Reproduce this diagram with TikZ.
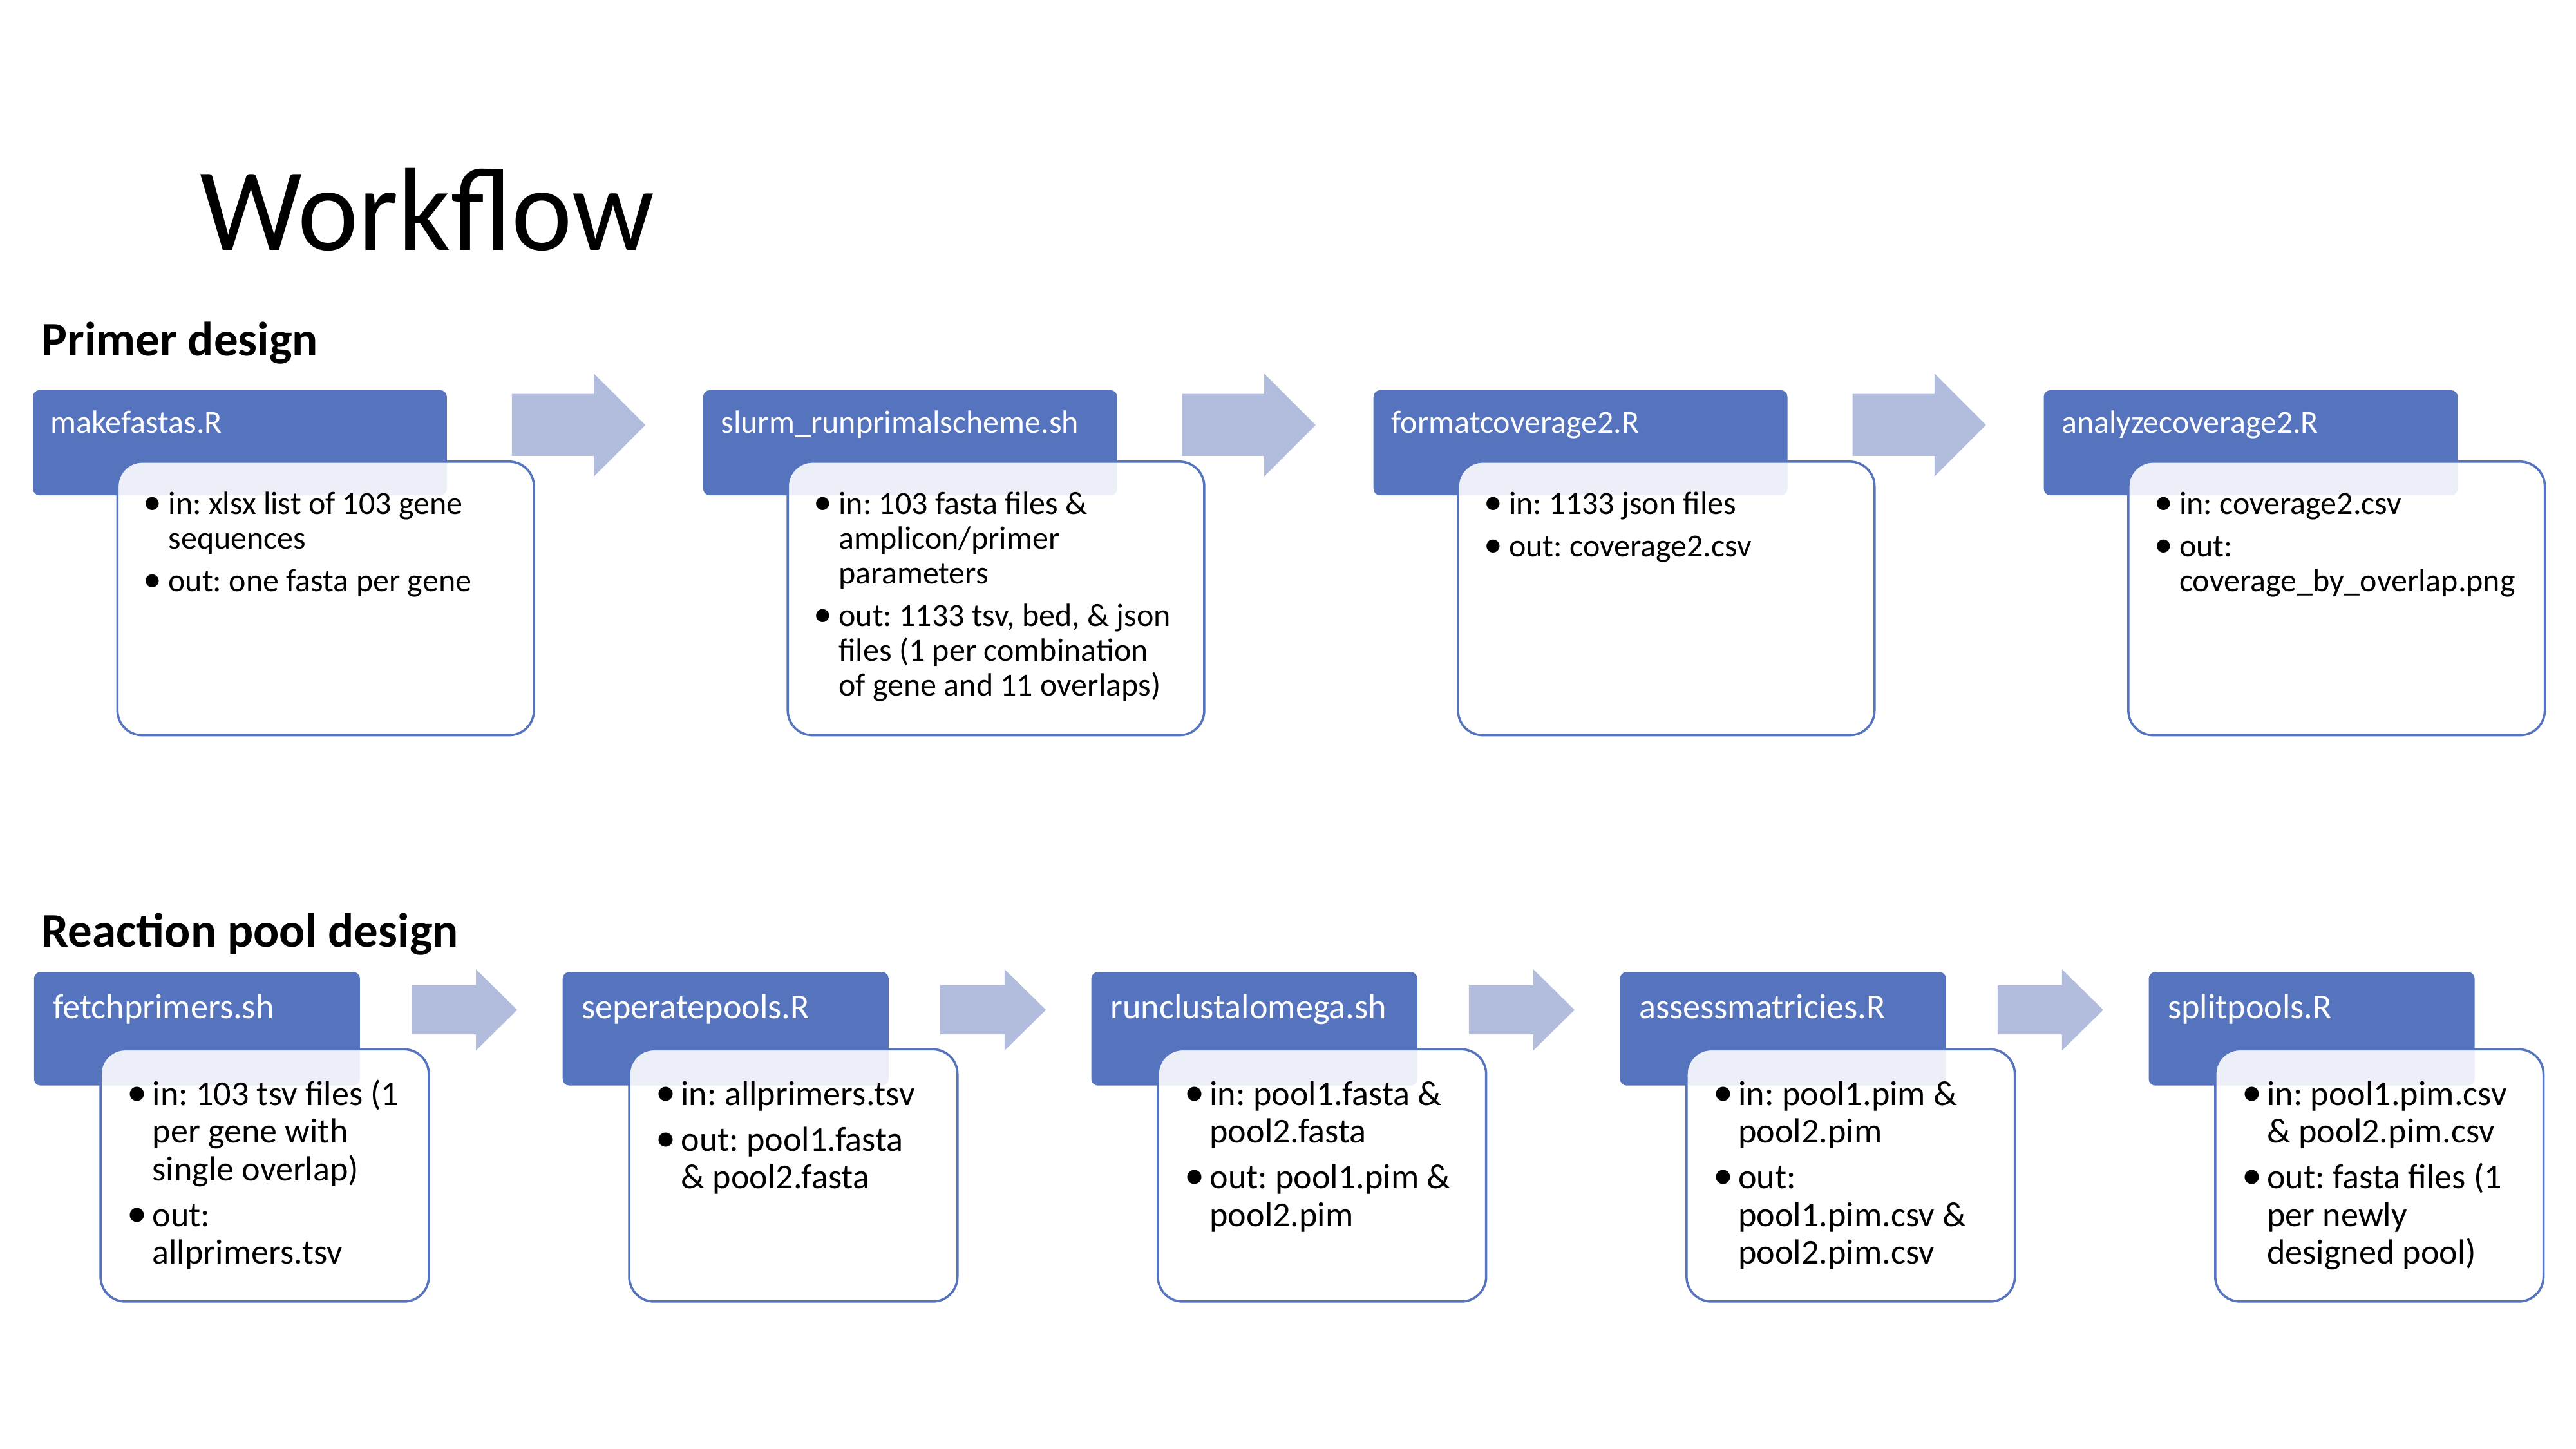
\documentclass[tikz,border=0pt]{standalone}
\usepackage{fontspec}
\setmainfont{Carlito}
\newfontfamily\titlefont[FakeStretch=0.975]{Carlito}
\frenchspacing

\definecolor{hdrblue}{HTML}{5673BE}
\definecolor{arrowblue}{HTML}{B2BCDD}

% hanging indent used by the bullet lists
\newlength\bind
\setlength\bind{8.1pt}
% one bullet paragraph
\newcommand\bpar{\par\noindent\hangindent=\bind\hangafter=1\makebox[\bind][l]{\kern-1.2pt\scalebox{1.15}{\textbullet}}}
% bullet list block: #1 font size, #2 line spacing, #3 items
\newcommand\steptext[3]{\parbox[t]{260pt}{\fontsize{#1}{#2}\selectfont\frenchspacing\setlength\parskip{3pt}#3}}

\begin{document}
\begin{tikzpicture}[x=0.612245pt, y=-0.612245pt,
  hdr/.style={fill=hdrblue, rounded corners=2.5pt},
  bodybox/.style={draw=hdrblue, line width=0.85pt, fill=white, fill opacity=0.89, rounded corners=9.2pt},
  hdrtext/.style={anchor=base west, inner sep=0pt, text=white},
  bodytext/.style={anchor=base west, inner sep=0pt, text=black},
  flowarrow/.style={fill=arrowblue},
  titletext/.style={anchor=base west, inner sep=0pt, font=\titlefont\fontsize{44}{50}\selectfont},
  sectext/.style={anchor=base west, inner sep=0pt, font=\bfseries\fontsize{18}{21}\selectfont}]

\fill[white] (0,0) rectangle (1568,882);
\useasboundingbox (0,0) rectangle (1568,882);

% ---- titles ----
\node[titletext] (title) at (121.5,152.2) {Workflow};
\node[sectext] (secprimer) at (25,216.5) {Primer design};
\node[sectext] (secpool) at (25,576.5) {Reaction pool design};

% ---- primer design row (step 408) ----
\newcommand\topstep[4]{%
  \fill[hdr] (20+#2,237.5) rectangle ++(252,64);
  \filldraw[bodybox] (71.5+#2,281) rectangle ++(253.5,166.5);
  \node[hdrtext, font=\fontsize{12}{14}\selectfont] (tt#1) at (30.6+#2,263.8) {#3};
  \node[bodytext] (tb#1) at (89+#2,313) {\steptext{12}{12.96}{#4}};
}
\newcommand\toparrow[2]{%
  \fill[flowarrow] (#2,239.8) -- (#2+49.9,239.8) -- (#2+49.9,227.4) -- (#2+81.2,258.7)
     -- (#2+49.9,290) -- (#2+49.9,277.5) -- (#2,277.5) -- cycle;
}

\topstep{1}{0}{makefastas.R}{\bpar in: xlsx list of 103 gene\\sequences\bpar out: one fasta per gene}
\topstep{2}{408}{slurm\_runprimalscheme.sh}{\bpar in: 103 fasta files \&\\amplicon/primer\\parameters\bpar out: 1133 tsv, bed, \& json\\files (1 per combination\\of gene and 11 overlaps)}
\topstep{3}{816}{formatcoverage2.R}{\bpar in: 1133 json files\bpar out: coverage2.csv}
\topstep{4}{1224}{analyzecoverage2.R}{\bpar in: coverage2.csv\bpar out:\\coverage\_by\_overlap.png}

\toparrow{1}{311.6}
\toparrow{2}{719.6}
\toparrow{3}{1127.6}

% ---- reaction pool design row (step 321.8) ----
\newcommand\botstep[4]{%
  \fill[hdr] (20.7+#2,591.6) rectangle ++(198.4,69.2);
  \filldraw[bodybox] (61.2+#2,638.7) rectangle ++(199.8,153.5);
  \node[hdrtext, font=\fontsize{13}{15}\selectfont] (bt#1) at (32+#2,620) {#3};
  \node[bodytext] (bb#1) at (79.2+#2,672.7) {\steptext{13}{14.04}{#4}};
}
\newcommand\botarrow[2]{%
  \fill[flowarrow] (#2,599.8) -- (#2+39.2,599.8) -- (#2+39.2,590) -- (#2+64.3,614.7)
     -- (#2+39.2,639.4) -- (#2+39.2,629.6) -- (#2,629.6) -- cycle;
}

\botstep{1}{0}{fetchprimers.sh}{\bpar in: 103 tsv files (1\\per gene with\\single overlap)\bpar out:\\allprimers.tsv}
\botstep{2}{321.8}{seperatepools.R}{\bpar in: allprimers.tsv\bpar out: pool1.fasta\\\& pool2.fasta}
\botstep{3}{643.6}{runclustalomega.sh}{\bpar in: pool1.fasta \&\\pool2.fasta\bpar out: pool1.pim \&\\pool2.pim}
\botstep{4}{965.4}{assessmatricies.R}{\bpar in: pool1.pim \&\\pool2.pim\bpar out:\\pool1.pim.csv \&\\pool2.pim.csv}
\botstep{5}{1287.2}{splitpools.R}{\bpar in: pool1.pim.csv\\\& pool2.pim.csv\bpar out: fasta files (1\\per newly\\designed pool)}

\botarrow{1}{250.5}
\botarrow{2}{572.3}
\botarrow{3}{894.1}
\botarrow{4}{1215.9}

\end{tikzpicture}
\end{document}
